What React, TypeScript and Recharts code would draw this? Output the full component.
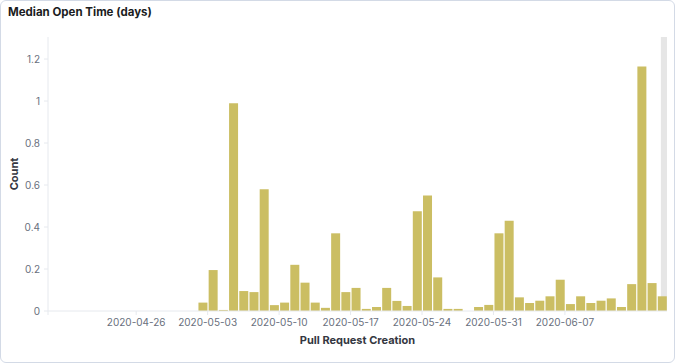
import { BarChart, Bar, XAxis, YAxis, ReferenceArea, Label } from 'recharts';

// daily buckets (median open time in days)
const bucketDates = [
  '2020-05-02', '2020-05-03', '2020-05-04', '2020-05-05', '2020-05-06', '2020-05-07',
  '2020-05-08', '2020-05-09', '2020-05-10', '2020-05-11', '2020-05-12', '2020-05-13',
  '2020-05-14', '2020-05-15', '2020-05-16', '2020-05-17', '2020-05-18', '2020-05-19',
  '2020-05-20', '2020-05-21', '2020-05-22', '2020-05-23', '2020-05-24', '2020-05-25',
  '2020-05-26', '2020-05-27', '2020-05-28', '2020-05-29', '2020-05-30', '2020-05-31',
  '2020-06-01', '2020-06-02', '2020-06-03', '2020-06-04', '2020-06-05', '2020-06-06',
  '2020-06-07', '2020-06-08', '2020-06-09', '2020-06-10', '2020-06-11', '2020-06-12',
  '2020-06-13', '2020-06-14', '2020-06-15', '2020-06-16',
];

const medianDays = [
  0.04, 0.195, 0.005, 0.99, 0.095, 0.09,
  0.58, 0.028, 0.04, 0.22, 0.135, 0.04,
  0.015, 0.37, 0.09, 0.11, 0.01, 0.019,
  0.11, 0.048, 0.024, 0.475, 0.55, 0.16,
  0.01, 0.01, null, 0.019, 0.029, 0.37,
  0.43, 0.065, 0.038, 0.049, 0.07, 0.149,
  0.033, 0.07, 0.038, 0.049, 0.06, 0.019,
  0.128, 1.165, 0.133, 0.07,
];

const xTickDates = ['2020-04-26', '2020-05-03', '2020-05-10', '2020-05-17', '2020-05-24', '2020-05-31', '2020-06-07'];
const yTicks = [0, 0.2, 0.4, 0.6, 0.8, 1, 1.2];

// time range shown, in days relative to 2020-04-26
const ORIGIN = Date.UTC(2020, 3, 26);
const DAY = 86400000;
const rangeStart = -8.64;
const rangeEnd = 52;
const partialStart = 51.4;

const toDay = (s: string) => {
  const [y, m, d] = s.split('-').map(Number);
  return (Date.UTC(y, m - 1, d) - ORIGIN) / DAY;
};

const data = bucketDates.map((d, i) => ({
  x: toDay(d) + 0.5,
  value: medianDays[i],
}));

const tickLabels: Record<number, string> = {};
xTickDates.forEach((d) => {
  tickLabels[toDay(d)] = d;
});
const xTicks = [rangeStart, ...xTickDates.map(toDay)];

const FONT = 'Inter, "Noto Sans", sans-serif';
const tickStyle = { fontSize: 10, fill: '#69707d', fontFamily: FONT };
const axisColor = '#e6e9ee';

export default function App() {
  return (
    <div style={{ position: 'relative', width: 675, height: 363, background: '#fff', fontFamily: FONT }}>
      <style>{'body{margin:0}'}</style>
      <div
        style={{
          position: 'absolute',
          left: 8,
          top: 4,
          fontSize: 11.5,
          fontWeight: 700,
          color: '#1a1c21',
          lineHeight: '16px',
        }}
      >
        Median Open Time (days)
      </div>
      <BarChart
        width={675}
        height={363}
        data={data}
        margin={{ top: 37, right: 8, left: 8, bottom: 22 }}
        style={{ position: 'absolute', left: 0, top: 0 }}
      >
        <XAxis
          dataKey="x"
          type="number"
          domain={[rangeStart, rangeEnd]}
          ticks={xTicks}
          tickFormatter={(v: number) => tickLabels[v] ?? ''}
          allowDataOverflow
          tick={tickStyle}
          tickSize={4}
          tickMargin={4}
          height={30}
          stroke={axisColor}
          interval={0}
        >
          <Label
            value="Pull Request Creation"
            position="insideBottom"
            offset={-3}
            style={{ fontSize: 11, fontWeight: 700, fill: '#343741', fontFamily: FONT }}
          />
        </XAxis>
        <YAxis
          type="number"
          domain={[0, 1.305]}
          ticks={yTicks}
          allowDataOverflow
          tick={tickStyle}
          tickSize={4}
          tickMargin={4}
          width={40}
          stroke={axisColor}
          interval={0}
        >
          <Label
            value="Count"
            angle={-90}
            position="insideLeft"
            offset={6}
            style={{ fontSize: 11, fontWeight: 700, fill: '#343741', fontFamily: FONT, textAnchor: 'middle' }}
          />
        </YAxis>
        <ReferenceArea x1={partialStart} x2={rangeEnd} fill="#e6e6e6" fillOpacity={1} stroke="none" ifOverflow="hidden" />
        <Bar dataKey="value" fill="#cbbe63" barSize={9} isAnimationActive={false} />
      </BarChart>
      <div
        style={{
          position: 'absolute',
          inset: 0,
          border: '1px solid #d3dae6',
          borderRadius: 6,
          pointerEvents: 'none',
        }}
      />
    </div>
  );
}
